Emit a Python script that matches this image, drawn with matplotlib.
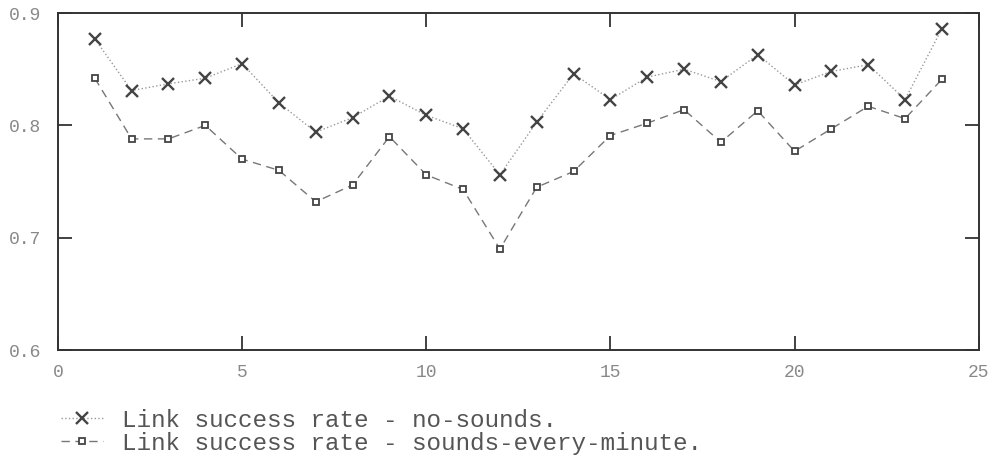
import numpy as np
import matplotlib
matplotlib.use("Agg")
import matplotlib.pyplot as plt

hours = list(range(1, 25))
no_sounds = [0.877, 0.831, 0.837, 0.842, 0.855, 0.820, 0.794, 0.807, 0.826, 0.809,
             0.797, 0.756, 0.803, 0.846, 0.823, 0.843, 0.850, 0.839, 0.863, 0.836,
             0.848, 0.854, 0.823, 0.886]
every_minute = [0.842, 0.788, 0.788, 0.800, 0.770, 0.760, 0.732, 0.747, 0.790, 0.756,
                0.743, 0.690, 0.745, 0.759, 0.791, 0.802, 0.814, 0.785, 0.813, 0.777,
                0.797, 0.817, 0.806, 0.841]
labels = ["Link success rate - no-sounds.",
          "Link success rate - sounds-every-minute."]

plt.rcParams['font.family'] = ['Liberation Mono', 'DejaVu Sans Mono']

fig = plt.figure(figsize=(9.89, 4.65), dpi=100)
ax = fig.add_axes([0.0586, 0.247, 0.931, 0.725])

ax.plot(hours, no_sounds, linestyle=':', color='#999999', linewidth=1.0,
        marker='x', markersize=8, markeredgewidth=1.7, markeredgecolor='#444444',
        label=labels[0])
ax.plot(hours, every_minute, linestyle=(0, (6, 4)), color='#777777', linewidth=1.0,
        marker='s', markersize=5, markerfacecolor='white', markeredgewidth=1.3,
        markeredgecolor='#444444', label=labels[1])

ax.set_xlim(0, 25)
ax.set_ylim(0.6, 0.9)
ax.set_xticks([0, 5, 10, 15, 20, 25])
ax.set_yticks([0.6, 0.7, 0.8, 0.9])
ax.set_yticklabels(['0.6', '0.7', '0.8', '0.9'])
ax.tick_params(direction='in', length=10, width=1.3, color='#333333',
               labelcolor='#888888', labelsize=13, top=True, right=True)
ax.tick_params(axis='y', pad=12)
ax.tick_params(axis='x', pad=10)
for s in ax.spines.values():
    s.set_color('#333333')
    s.set_linewidth(1.4)

fig.legend(loc='upper left', bbox_to_anchor=(0.062, 0.121), frameon=False,
           fontsize=17.5, handlelength=1.7, handletextpad=0.8, labelspacing=0.0,
           borderpad=0, borderaxespad=0, labelcolor='#555555')

fig.savefig('out.png', dpi=100)
